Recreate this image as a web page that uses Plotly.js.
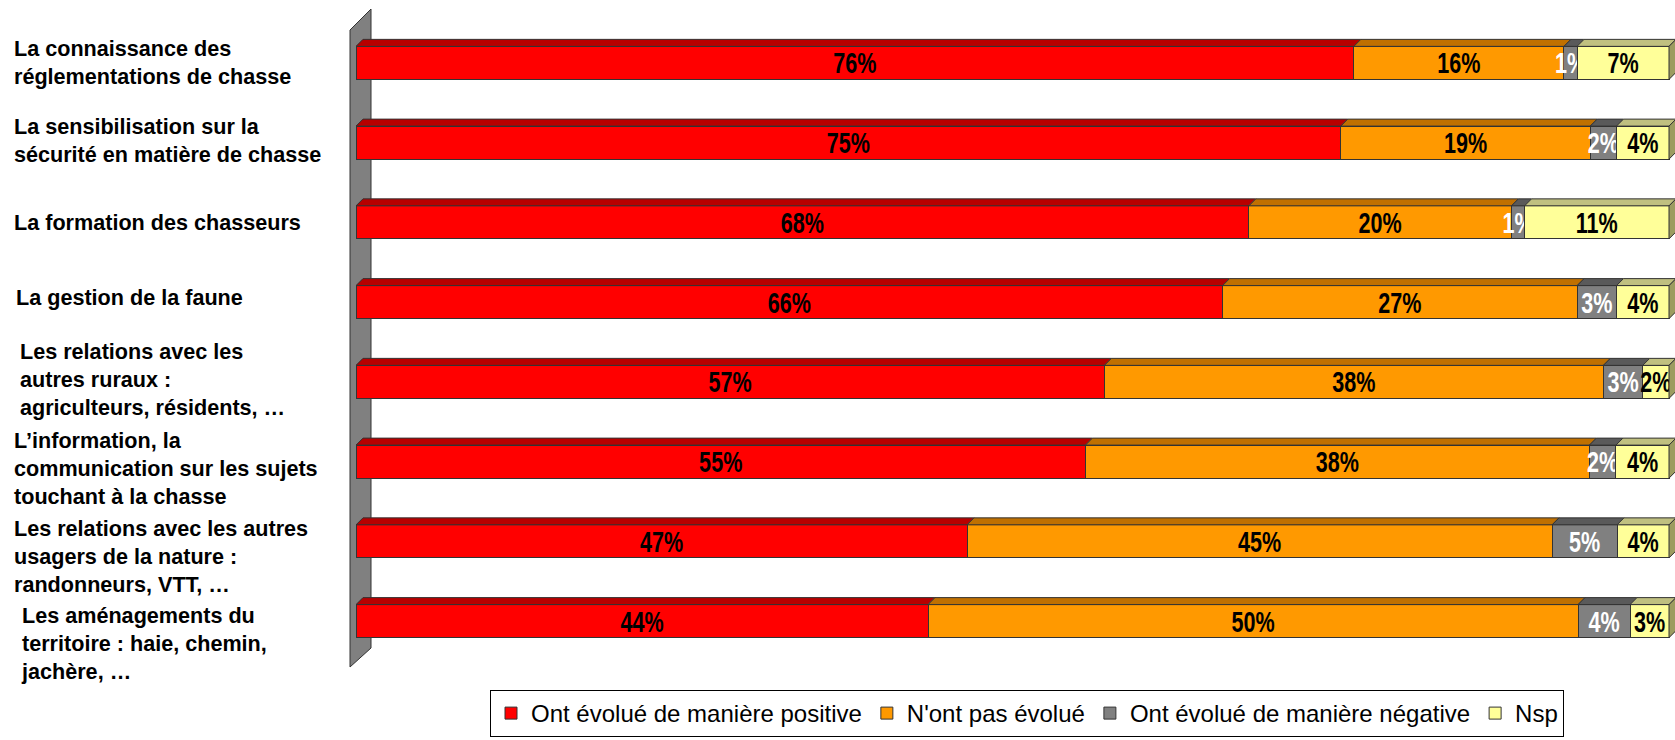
<!DOCTYPE html>
<html>
<head>
<meta charset="utf-8">
<script src="https://cdn.plot.ly/plotly-3.0.1.min.js"></script>
<style>
  html, body { margin: 0; padding: 0; background: #ffffff; }
  #chart { width: 1675px; height: 740px; }
</style>
</head>
<body>
<div id="chart"></div>
<script>
// ---------- DATA ----------
const categories = [
  "La connaissance des<br>réglementations de chasse",
  "La sensibilisation sur la<br>sécurité en matière de chasse",
  "La formation des chasseurs",
  "La gestion de la faune",
  "Les relations avec les<br>autres ruraux :<br>agriculteurs, résidents, …",
  "L’information, la<br>communication sur les sujets<br>touchant à la chasse",
  "Les relations avec les autres<br>usagers de la nature :<br>randonneurs, VTT, …",
  "Les aménagements du<br>territoire : haie, chemin,<br>jachère, …"
];
const seriesNames = [
  "Ont évolué de manière positive",
  "N'ont pas évolué",
  "Ont évolué de manière négative",
  "Nsp"
];
const positive = [76, 75, 68, 66, 57, 55, 47, 44];
const unchanged = [16, 19, 20, 27, 38, 38, 45, 50];
const negative = [1, 2, 1, 3, 3, 2, 5, 4];
const nsp = [7, 4, 11, 4, 2, 4, 4, 3];

// ---------- STYLE ----------
const frontColors = ["#FF0000", "#FF9900", "#808080", "#FFFF99"];
const topColors = ["#B80000", "#C07000", "#5A5A5A", "#C0C080"];
const sideColor = "#9C9C60";
const textColors = ["#000000", "#000000", "#FFFFFF", "#000000"];
const labelXpx = [12, 12, 12, 14, 18, 12, 12, 19];
const labelShift = [0, 2, 0, 5, 2, -7, -15, -22];
const narrowScale = 0.72;   // horizontal squeeze of the value labels (narrow font look)

const W = 1675, H = 740;
const M = { l: 356, r: 0, t: 23, b: 79 };
const plotW = W - M.l - M.r, plotH = H - M.t - M.b;
const pxPerUnit = 1313 / 100;          // 100 % spans 1313 px
const xMax = plotW / pxPerUnit;
const barW = 0.414;
const depthPx = 7;
const dx = depthPx / pxPerUnit;
const dy = depthPx / (plotH / categories.length);

const series = [positive, unchanged, negative, nsp];
const yIdx = categories.map((_, i) => i);

const traces = series.map((vals, s) => ({
  type: "bar",
  orientation: "h",
  name: seriesNames[s],
  x: vals,
  y: yIdx,
  text: vals.map(v => v + "%"),
  textposition: "inside",
  insidetextanchor: "middle",
  textangle: 0,
  constraintext: "none",
  cliponaxis: false,
  textfont: { family: "Liberation Sans, Arial, sans-serif", size: 30, color: textColors[s], weight: "bold" },
  marker: { color: frontColors[s], line: { color: "#333333", width: 1 } },
  hoverinfo: "name+text"
}));

// 3D faces computed from the data
const shapes = [];
categories.forEach((_, i) => {
  const total = series.reduce((a, sv) => a + sv[i], 0);
  let cum = 0;
  const yt = i - barW / 2, yb = i + barW / 2;
  series.forEach((sv, s) => {
    const x0 = cum / total * 100;
    cum += sv[i];
    const x1 = cum / total * 100;
    shapes.push({
      type: "path", xref: "x", yref: "y", layer: "above",
      path: `M ${x0},${yt} L ${x0 + dx},${yt - dy} L ${x1 + dx},${yt - dy} L ${x1},${yt} Z`,
      fillcolor: topColors[s], line: { color: "#333333", width: 1 }
    });
  });
  shapes.push({
    type: "path", xref: "x", yref: "y", layer: "above",
    path: `M 100,${yt} L ${100 + dx},${yt - dy} L ${100 + dx},${yb - dy} L 100,${yb} Z`,
    fillcolor: sideColor, line: { color: "#333333", width: 1 }
  });
});

// Wall (decoration) in paper coordinates from pixel corners
const px2x = p => (p - M.l) / plotW;
const py2y = p => 1 - (p - M.t) / plotH;
const wall = [[350, 30], [371, 9], [371, 648], [350, 667]];
shapes.unshift({
  type: "path", xref: "paper", yref: "paper", layer: "below",
  path: "M " + wall.map(([a, b]) => px2x(a) + "," + py2y(b)).join(" L ") + " Z",
  fillcolor: "#808080", line: { color: "#333333", width: 1 }
});

const annotations = categories.map((c, i) => ({
  xref: "paper", yref: "y",
  x: px2x(labelXpx[i]), y: i, yshift: labelShift[i],
  xanchor: "left", yanchor: "middle", align: "left",
  text: "<b>" + c + "</b>", showarrow: false,
  font: { family: "Liberation Sans, Arial, sans-serif", size: 21.6, color: "#000000" }
}));

const layout = {
  width: W, height: H,
  margin: { l: M.l, r: M.r, t: M.t, b: M.b, autoexpand: false },
  paper_bgcolor: "#ffffff", plot_bgcolor: "rgba(0,0,0,0)",
  barmode: "stack", barnorm: "percent", bargap: 1 - barW,
  xaxis: { range: [0, xMax], showgrid: false, zeroline: false, showticklabels: false, showline: false, fixedrange: true },
  yaxis: { range: [categories.length - 0.5, -0.5], showgrid: false, zeroline: false, showticklabels: false, showline: false, fixedrange: true },
  showlegend: true,
  legend: {
    orientation: "h", xref: "paper", yref: "paper",
    x: px2x(490), y: py2y(690), xanchor: "left", yanchor: "top",
    bordercolor: "#000000", borderwidth: 1, bgcolor: "#ffffff",
    font: { family: "Liberation Sans, Arial, sans-serif", size: 24, color: "#000000" },
    traceorder: "normal", itemwidth: 30, itemclick: false
  },
  shapes: shapes,
  annotations: annotations
};

function squeezeBarText(gd) {
  gd.querySelectorAll("text.bartext").forEach(t => {
    const bb = t.getBBox();
    const cx = bb.x + bb.width / 2;
    const base = t.getAttribute("data-base-transform") ?? (t.getAttribute("transform") || "");
    t.setAttribute("data-base-transform", base);
    t.setAttribute("transform", `${base} translate(${cx},0) scale(${narrowScale},1) translate(${-cx},0)`);
  });
}

Plotly.newPlot("chart", traces, layout, { displayModeBar: false }).then(gd => {
  squeezeBarText(gd);
  gd.on("plotly_afterplot", () => squeezeBarText(gd));
});
</script>
</body>
</html>
